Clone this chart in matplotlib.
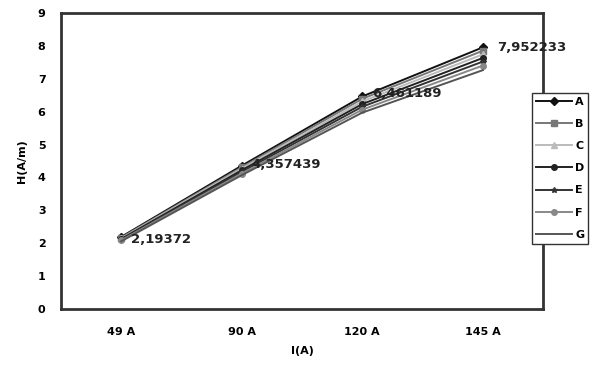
import matplotlib
matplotlib.use("Agg")
import matplotlib.pyplot as plt

# categories on x axis
currents = ["49 A", "90 A", "120 A", "145 A"]
series_names = ["A", "B", "C", "D", "E", "F", "G"]

# H(A/m) values
A = [2.19372, 4.357439, 6.461189, 7.952233]
B = [2.17, 4.31, 6.39, 7.85]
C = [2.15, 4.27, 6.31, 7.74]
D = [2.13, 4.22, 6.23, 7.63]
E = [2.11, 4.17, 6.15, 7.52]
F = [2.09, 4.12, 6.06, 7.40]
G = [2.06, 4.07, 5.97, 7.26]
all_series = [A, B, C, D, E, F, G]

point_labels = ["2,19372", "4,357439", "6,461189", "7,952233"]

colors = ["#111111", "#777777", "#bbbbbb", "#222222", "#333333", "#888888", "#555555"]
markers = ["D", "s", "^", "o", "*", "o", None]

fig = plt.figure(figsize=(5.91, 3.68), dpi=100)
ax = fig.add_axes([0.103, 0.160, 0.816, 0.805])

x = list(range(len(currents)))
for name, vals, c, m in zip(series_names, all_series, colors, markers):
    ax.plot(x, vals, color=c, marker=m, markersize=4, linewidth=1.4, label=name)

offsets = [(7, -2), (7, 1), (7, 2), (10, 0)]
for i, lab in enumerate(point_labels):
    ax.annotate(lab, (x[i], A[i]), xytext=offsets[i], textcoords="offset points",
                fontsize=9.5, fontweight="bold", color="#222222", va="center")

ax.set_xlim(-0.5, len(currents) - 0.5)
ax.set_ylim(0, 9)
ax.set_yticks(range(0, 10))
ax.set_xticks(x)
ax.set_xticklabels(currents)
ax.tick_params(axis="x", labelsize=8, length=0, pad=13)
ax.tick_params(axis="y", labelsize=8, length=0, pad=11)
for t in ax.get_xticklabels() + ax.get_yticklabels():
    t.set_fontweight("bold")
for s in ax.spines.values():
    s.set_linewidth(2)
    s.set_color("#333333")

ax.set_xlabel("I(A)", fontsize=8, fontweight="bold", labelpad=6)
ax.set_ylabel("H(A/m)", fontsize=8, fontweight="bold", labelpad=8)

fig.legend(loc="center left", bbox_to_anchor=(0.901, 0.543),
           prop={"weight": "bold", "size": 8}, frameon=True, fancybox=False,
           edgecolor="#333333", labelspacing=1.1, handlelength=3.2,
           borderpad=0.35, handletextpad=0.3, borderaxespad=0, framealpha=1)

fig.savefig("out.png", dpi=100)
